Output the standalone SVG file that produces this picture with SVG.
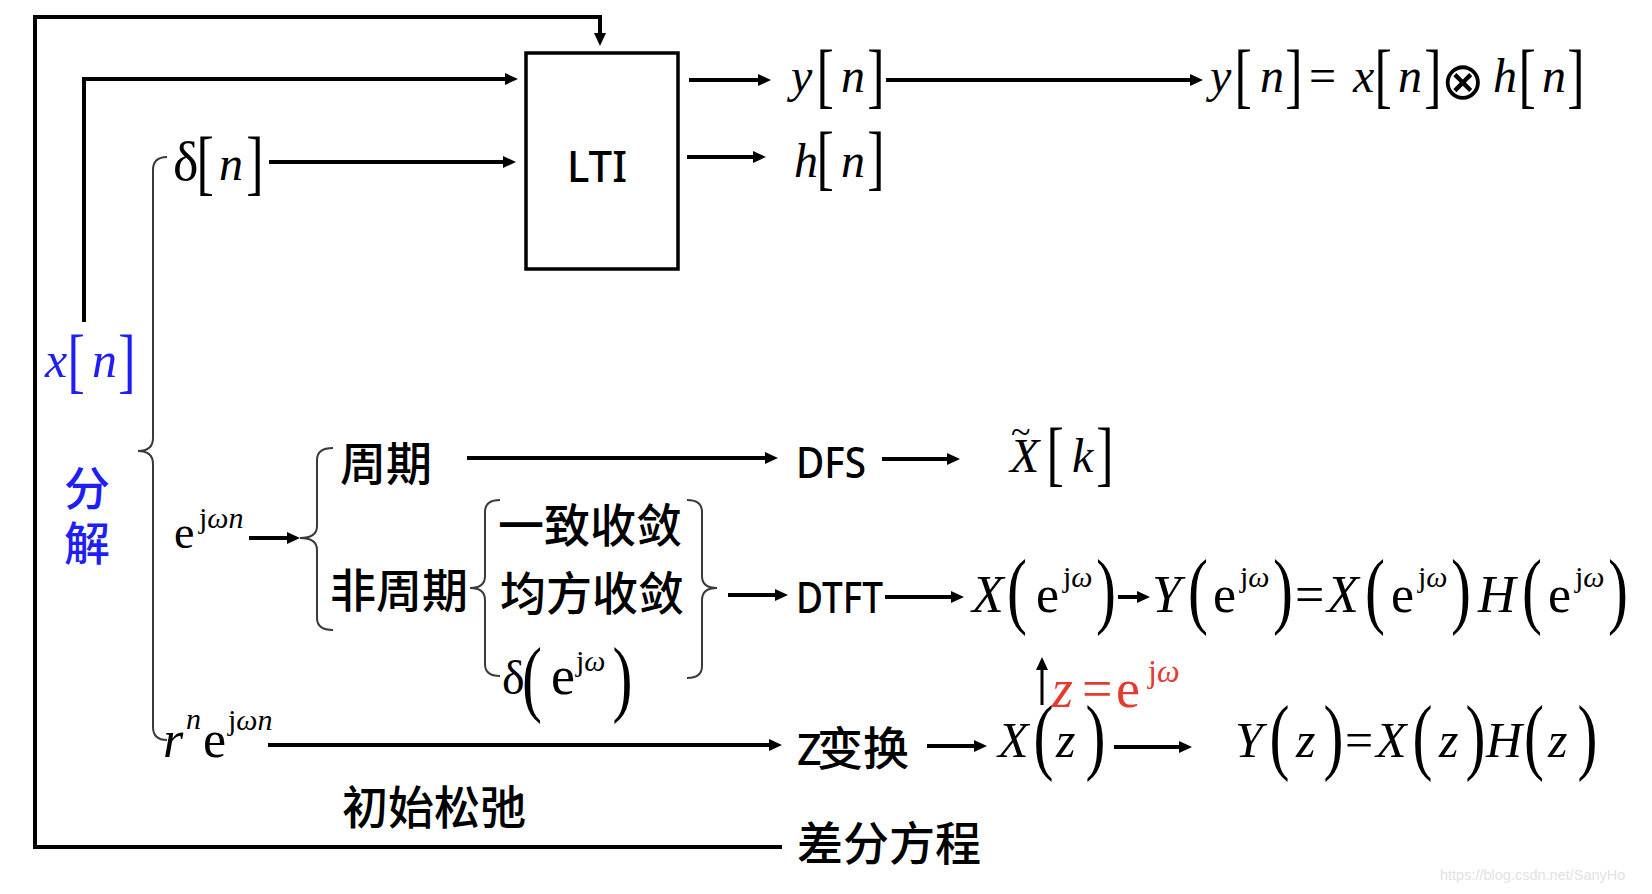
<svg xmlns="http://www.w3.org/2000/svg" width="1652" height="894" viewBox="0 0 1652 894">
<style>
.ln{fill:none;stroke:#000;stroke-width:4}
.ar{fill:none;stroke:#000;stroke-width:4;marker-end:url(#ah)}
.br{fill:none;stroke:#3a3a3a;stroke-width:2}
.m{font-family:"Liberation Serif","DejaVu Serif",serif;fill:#000}
.i{font-style:italic}
.bk{font-family:"Liberation Serif",serif;font-size:52px}
.pa{font-family:"Liberation Serif",serif;font-size:60px}
.cn{font-family:"Noto Sans CJK SC","Noto Sans",sans-serif;font-size:46px;font-weight:500;fill:#000}
.sn{font-family:"Noto Sans","Liberation Sans",sans-serif;font-size:43px;font-weight:500;fill:#000}
.blue{fill:#1e1ef5}
.red{fill:#e53a2f}
</style>
<defs>
<marker id="ah" markerUnits="userSpaceOnUse" markerWidth="16" markerHeight="14" refX="7" refY="6" orient="auto"><path d="M0,0 L13,6 L0,12 z" fill="#000"/></marker>
</defs>
<rect width="1652" height="894" fill="#fff"/>

<g id="connectors">
<path class="ar" d="M782,847 H35 V17 H600 V40"/>
<path class="ar" d="M84,322 V79 H512"/>
<path class="ar" d="M269,162 H510"/>
<path class="ar" d="M689,80 H765"/>
<path class="ar" d="M687,157 H760"/>
<path class="ar" d="M886,80 H1197"/>
<path class="ar" d="M249,538 H294"/>
<path class="ar" d="M467,458 H772"/>
<path class="ar" d="M882,459 H954"/>
<path class="ar" d="M728,595 H782"/>
<path class="ar" d="M885,597 H958"/>
<path class="ar" d="M1118,597 H1144"/>
<path class="ar" style="stroke-width:3" d="M1042,705 V663"/>
<path class="ar" d="M268,745 H776"/>
<path class="ar" d="M927,746 H981"/>
<path class="ar" d="M1114,747 H1186"/>
</g>

<g id="braces">
<path class="br" d="M167,157 Q153,157 153,170 V438 Q153,451 138,451 Q153,451 153,464 V727 Q153,740 167,740"/>
<path class="br" d="M333,448 Q317,448 317,460 V526 Q317,538 300,538 Q317,538 317,550 V618 Q317,630 333,630"/>
<path class="br" d="M500,500 Q485,500 485,512 V576 Q485,588 470,588 Q485,588 485,600 V664 Q485,676 500,676"/>
<path class="br" d="M687,500 Q702,500 702,512 V576 Q702,588 717,588 Q702,588 702,600 V666 Q702,678 687,678"/>
</g>

<g id="lti">
<rect x="526" y="53" width="152" height="216" fill="none" stroke="#000" stroke-width="3.5"/>
<text class="sn" x="567" y="182" font-size="44" font-weight="normal" textLength="60" lengthAdjust="spacingAndGlyphs">LTI</text>
</g>

<g id="xn">
<text class="m i blue" font-size="50" y="377"><tspan x="45">x</tspan><tspan x="92">n</tspan></text>
<text class="m bk blue" transform="translate(67.4,383.6) scale(1,1.4)">[</text>
<text class="m bk blue" transform="translate(118.2,383.6) scale(1,1.4)">]</text>
<text class="cn blue" font-weight="bold" x="64" y="505" font-size="44">分</text>
<text class="cn blue" font-weight="bold" x="64" y="560" font-size="44">解</text>
</g>

<g id="delta">
<text class="m" y="180"><tspan x="173" font-size="54">δ</tspan><tspan x="219" font-size="48" font-style="italic">n</tspan></text>
<text class="m bk" transform="translate(196.4,185.6) scale(1,1.4)">[</text>
<text class="m bk" transform="translate(246.2,185.6) scale(1,1.4)">]</text>
</g>

<g id="yn">
<text class="m i" font-size="48" y="92"><tspan x="791">y</tspan><tspan x="841">n</tspan></text>
<text class="m bk" transform="translate(816.4,98.6) scale(1,1.4)">[</text>
<text class="m bk" transform="translate(867.2,98.6) scale(1,1.4)">]</text>
</g>

<g id="hn">
<text class="m i" font-size="48" y="177"><tspan x="794">h</tspan><tspan x="841">n</tspan></text>
<text class="m bk" transform="translate(816.4,180.6) scale(1,1.4)">[</text>
<text class="m bk" transform="translate(867.2,180.6) scale(1,1.4)">]</text>
</g>

<g id="conv">
<text class="m" font-size="48" y="92"><tspan x="1210" font-style="italic">y</tspan><tspan x="1260" font-style="italic">n</tspan><tspan x="1309">=</tspan><tspan x="1353" font-style="italic">x</tspan><tspan x="1398" font-style="italic">n</tspan><tspan x="1493" font-style="italic">h</tspan><tspan x="1542" font-style="italic">n</tspan></text>
<text x="1441" y="99" font-family="DejaVu Sans,sans-serif" font-size="52">⊗</text>
<text class="m bk" transform="translate(1234.4,98.6) scale(1,1.4)">[</text>
<text class="m bk" transform="translate(1285.2,98.6) scale(1,1.4)">]</text>
<text class="m bk" transform="translate(1374.4,98.6) scale(1,1.4)">[</text>
<text class="m bk" transform="translate(1424.2,98.6) scale(1,1.4)">]</text>
<text class="m bk" transform="translate(1518.4,98.6) scale(1,1.4)">[</text>
<text class="m bk" transform="translate(1567.2,98.6) scale(1,1.4)">]</text>
</g>

<g id="ejwn">
<text class="m" y="548"><tspan x="174" font-size="46">e</tspan><tspan x="199" y="528" font-size="30">j</tspan><tspan font-size="30" font-style="italic">ωn</tspan></text>
</g>

<g id="periodic">
<text class="cn" x="340" y="480">周期</text>
</g>
<g id="aperiodic">
<text class="cn" x="330" y="607">非周期</text>
</g>
<g id="uniform">
<text class="cn" x="498" y="542">一致收敛</text>
</g>
<g id="meansq">
<text class="cn" x="500" y="610">均方收敛</text>
</g>
<g id="deltaejw">
<text class="m" y="694"><tspan x="502" font-size="48">δ</tspan><tspan x="551" font-size="54">e</tspan><tspan x="576" y="671" font-size="30">j</tspan><tspan font-size="30" font-style="italic">ω</tspan></text>
<text class="m pa" font-size="56" transform="translate(522,706) scale(1,1.4)">(</text>
<text class="m pa" font-size="56" transform="translate(612.5,706) scale(1,1.4)">)</text>
</g>

<g id="dfs">
<text class="sn" x="796" y="478" textLength="70" lengthAdjust="spacingAndGlyphs">DFS</text>
</g>
<g id="xk">
<text class="m" x="1011" y="444" font-size="36">~</text>
<text class="m i" font-size="48" y="472"><tspan x="1010">X</tspan><tspan x="1072">k</tspan></text>
<text class="m bk" transform="translate(1046.4,476.6) scale(1,1.4)">[</text>
<text class="m bk" transform="translate(1096.2,476.6) scale(1,1.4)">]</text>
</g>

<g id="dtft">
<text class="sn" x="796" y="613" textLength="87" lengthAdjust="spacingAndGlyphs">DTFT</text>
</g>

<g id="xejw">
<text class="m" font-size="52" y="612"><tspan x="972" font-style="italic">X</tspan><tspan x="1036">e</tspan><tspan x="1063" y="587" font-size="30">j</tspan><tspan font-size="30" font-style="italic">ω</tspan></text>
<text class="m pa" transform="translate(1007,618) scale(1,1.4)">(</text>
<text class="m pa" transform="translate(1096,618) scale(1,1.4)">)</text>
</g>
<g id="yejw">
<text class="m" font-size="52" y="612"><tspan x="1152" font-style="italic">Y</tspan><tspan x="1213">e</tspan><tspan x="1240" y="587" font-size="30">j</tspan><tspan font-size="30" font-style="italic">ω</tspan><tspan x="1295" y="612">=</tspan><tspan x="1327" font-style="italic">X</tspan><tspan x="1391">e</tspan><tspan x="1418" y="587" font-size="30">j</tspan><tspan font-size="30" font-style="italic">ω</tspan><tspan x="1478" y="612" font-style="italic">H</tspan><tspan x="1548">e</tspan><tspan x="1575" y="587" font-size="30">j</tspan><tspan font-size="30" font-style="italic">ω</tspan></text>
<text class="m pa" transform="translate(1188,618) scale(1,1.4)">(</text>
<text class="m pa" transform="translate(1273,618) scale(1,1.4)">)</text>
<text class="m pa" transform="translate(1365,618) scale(1,1.4)">(</text>
<text class="m pa" transform="translate(1451,618) scale(1,1.4)">)</text>
<text class="m pa" transform="translate(1522,618) scale(1,1.4)">(</text>
<text class="m pa" transform="translate(1608,618) scale(1,1.4)">)</text>
</g>

<g id="zsub">
<text class="m red" font-size="54" y="707"><tspan x="1052" font-style="italic">z</tspan><tspan x="1082">=</tspan><tspan x="1116">e</tspan><tspan x="1148" y="682" font-size="32">j</tspan><tspan font-size="32" font-style="italic">ω</tspan></text>
</g>

<g id="rn">
<text class="m" y="757"><tspan x="163" font-size="52" font-style="italic">r</tspan><tspan x="186" y="729" font-size="30" font-style="italic">n</tspan><tspan x="203" y="757" font-size="52">e</tspan><tspan x="228" y="730" font-size="30">j</tspan><tspan font-size="30" font-style="italic">ωn</tspan></text>
</g>

<g id="ztrans">
<text y="765"><tspan class="sn" x="797" font-size="43">Z</tspan><tspan class="cn" x="817">变换</tspan></text>
</g>

<g id="xz">
<text class="m i" font-size="50" y="757"><tspan x="998">X</tspan><tspan x="1056">z</tspan></text>
<text class="m pa" font-size="52" transform="translate(1033.5,764) scale(1,1.4)">(</text>
<text class="m pa" font-size="52" transform="translate(1085.5,764) scale(1,1.4)">)</text>
</g>
<g id="yz">
<text class="m" font-size="50" y="757"><tspan x="1235" font-style="italic">Y</tspan><tspan x="1296" font-style="italic">z</tspan><tspan x="1345">=</tspan><tspan x="1376" font-style="italic">X</tspan><tspan x="1439" font-style="italic">z</tspan><tspan x="1486" font-style="italic">H</tspan><tspan x="1548" font-style="italic">z</tspan></text>
<text class="m pa" font-size="52" transform="translate(1269.5,764) scale(1,1.4)">(</text>
<text class="m pa" font-size="52" transform="translate(1323.5,764) scale(1,1.4)">)</text>
<text class="m pa" font-size="52" transform="translate(1412.5,764) scale(1,1.4)">(</text>
<text class="m pa" font-size="52" transform="translate(1465.5,764) scale(1,1.4)">)</text>
<text class="m pa" font-size="52" transform="translate(1524,764) scale(1,1.4)">(</text>
<text class="m pa" font-size="52" transform="translate(1577.5,764) scale(1,1.4)">)</text>
</g>

<g id="relax">
<text class="cn" x="342" y="824">初始松弛</text>
</g>
<g id="diffeq">
<text class="cn" x="797" y="860">差分方程</text>
</g>

<text x="1440" y="880" font-family="Liberation Sans,sans-serif" font-size="14.5" fill="#e2e2e2">https://blog.csdn.net/SanyHo</text>
</svg>
